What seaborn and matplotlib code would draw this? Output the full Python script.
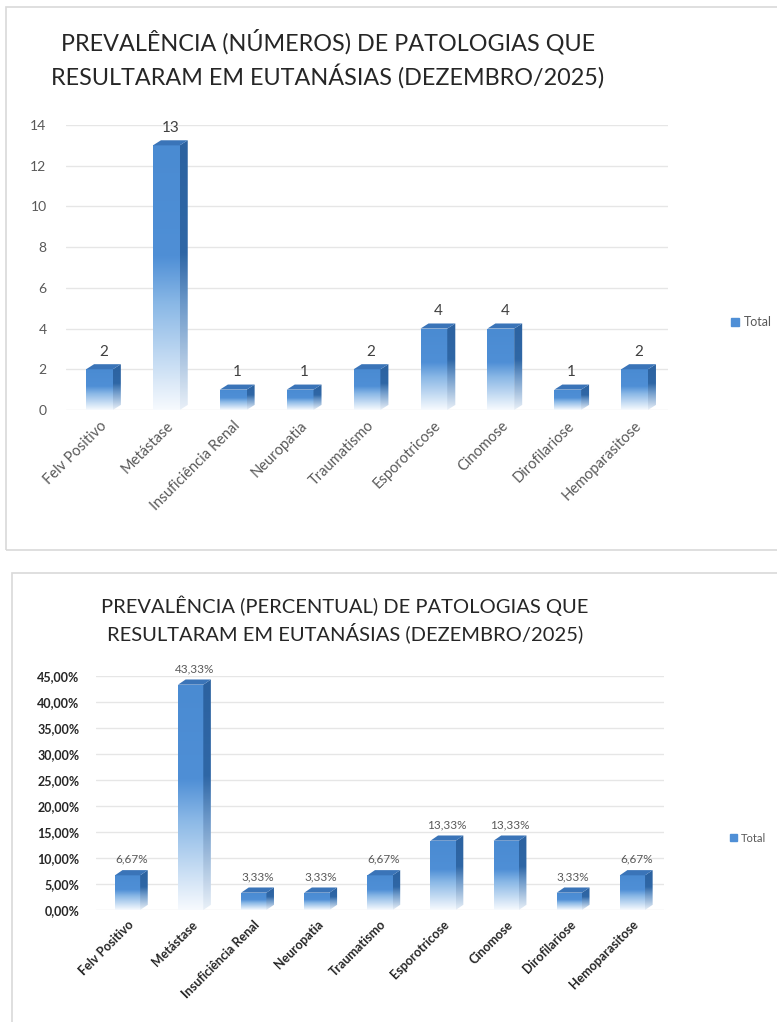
import numpy as np
import pandas as pd
import seaborn as sns
import matplotlib.pyplot as plt
from matplotlib.patches import Polygon, Rectangle, Patch
from matplotlib.colors import LinearSegmentedColormap
from matplotlib.ticker import FuncFormatter

# Dados
categorias = ["Felv Positivo", "Metástase", "Insuficiência Renal", "Neuropatia",
              "Traumatismo", "Esporotricose", "Cinomose", "Dirofilariose",
              "Hemoparasitose"]
casos = [2, 13, 1, 1, 2, 4, 4, 1, 2]
percentuais = [6.67, 43.33, 3.33, 3.33, 6.67, 13.33, 13.33, 3.33, 6.67]
ticks_num = [0, 2, 4, 6, 8, 10, 12, 14]
ticks_pct = [0, 5, 10, 15, 20, 25, 30, 35, 40, 45]

titulo_num = ["PREVALÊNCIA (NÚMEROS) DE PATOLOGIAS QUE",
              "RESULTARAM EM EUTANÁSIAS (DEZEMBRO/2025)"]
titulo_pct = ["PREVALÊNCIA (PERCENTUAL) DE PATOLOGIAS QUE",
              "RESULTARAM EM EUTANÁSIAS (DEZEMBRO/2025)"]

W, H = 777, 1022
sns.set_theme(style="white")
plt.rcParams["font.family"] = ["Lato", "DejaVu Sans"]

fig = plt.figure(figsize=(W / 100, H / 100), dpi=100)

front_cmap = LinearSegmentedColormap.from_list(
    "front", [(0, "#f7fafe"), (0.4, "#8ab8e6"), (0.58, "#4f8fd6"), (1, "#4a8bd2")])
side_cmap = LinearSegmentedColormap.from_list(
    "side", [(0, "#e9f0f8"), (0.4, "#6a97c8"), (0.58, "#2f67a6"), (1, "#2c62a0")])
TOP_COLOR = "#3a74b8"


def px_axes(left, top, right, bottom):
    return fig.add_axes([left / W, 1 - bottom / H, (right - left) / W, (bottom - top) / H])


def panel(left, top, right, bottom):
    fig.patches.append(Rectangle((left / W, 1 - bottom / H), (right - left) / W,
                                 (bottom - top) / H, transform=fig.transFigure,
                                 fill=False, edgecolor="#d9d9d9", lw=1.2))


def draw_chart(ax, valores, ticks, fmt_tick, fmt_val, depth_y, val_size, val_color,
               tick_kw, xtick_kw):
    df = pd.DataFrame({"cat": categorias, "v": valores})
    sns.barplot(data=df, x="cat", y="v", ax=ax, width=0.4, color="#4f8fd6",
                saturation=1, zorder=3)
    ax.set_ylim(ticks[0], ticks[-1])
    ax.set_xlim(-0.5, len(categorias) - 0.5)
    dx = 0.12
    grad = np.linspace(0, 1, 256).reshape(-1, 1)
    for p, v in zip(list(ax.patches), valores):
        x0, w, h = p.get_x(), p.get_width(), p.get_height()
        p.set_facecolor("none")
        p.set_edgecolor("none")
        im = ax.imshow(grad, extent=[x0, x0 + w, 0, h], origin="lower",
                       cmap=front_cmap, aspect="auto", zorder=3)
        im.set_clip_path(p)
        side = Polygon([[x0 + w, 0], [x0 + w + dx, depth_y], [x0 + w + dx, h + depth_y],
                        [x0 + w, h]], closed=True, facecolor="none", edgecolor="none")
        ax.add_patch(side)
        ims = ax.imshow(grad, extent=[x0 + w, x0 + w + dx, 0, h + depth_y], origin="lower",
                        cmap=side_cmap, aspect="auto", zorder=3)
        ims.set_clip_path(side)
        top = Polygon([[x0, h], [x0 + dx, h + depth_y], [x0 + w + dx, h + depth_y],
                       [x0 + w, h]], closed=True, facecolor=TOP_COLOR,
                      edgecolor="none", zorder=4)
        ax.add_patch(top)
        ax.annotate(fmt_val(v), (x0 + w / 2 + dx / 2, h + depth_y), xytext=(0, 4),
                    textcoords="offset points", ha="center", va="bottom",
                    fontsize=val_size, color=val_color)
    ax.set_ylim(ticks[0], ticks[-1])
    ax.set_xlim(-0.5, len(categorias) - 0.5)
    ax.set_yticks(ticks)
    ax.yaxis.set_major_formatter(FuncFormatter(fmt_tick))
    ax.grid(axis="y", color="#e6e6e6", lw=1, zorder=0)
    ax.set_axisbelow(True)
    for s in ax.spines.values():
        s.set_visible(False)
    ax.set_xlabel("")
    ax.set_ylabel("")
    ax.tick_params(axis="both", length=0)
    ax.tick_params(axis="y", **tick_kw)
    ax.set_xticks(range(len(categorias)))
    ax.set_xticklabels(categorias, rotation=45, ha="right", rotation_mode="anchor",
                       **xtick_kw)
    ax.patch.set_alpha(0)


# ---------- gráfico 1: números ----------
panel(6, 7, 790, 550)
for i, linha in enumerate(titulo_num):
    fig.text(328 / W, 1 - (42 + 34 * i) / H, linha, ha="center", va="center",
             fontsize=16.8, color="#262626")

ax1 = px_axes(66, 125, 668, 410)
draw_chart(ax1, casos, ticks_num, lambda v, p: f"{v:.0f}", lambda v: f"{v}",
           0.25, 11, "#404040",
           dict(labelsize=10, labelcolor="#595959", pad=14),
           dict(fontsize=10.5, color="#595959"))
ax1.tick_params(axis="x", pad=6)
fig.legend(handles=[Patch(color="#4f8fd6", label="Total")], loc="center left",
           bbox_to_anchor=(720 / W, 1 - 322 / H), frameon=False, fontsize=9,
           handlelength=0.6, handleheight=0.6, handletextpad=0.4, labelcolor="#595959")

# ---------- gráfico 2: percentuais ----------
panel(12, 573, 790, 1040)
for i, linha in enumerate(titulo_pct):
    fig.text(345 / W, 1 - (606 + 27 * i) / H, linha, ha="center", va="center",
             fontsize=14.5, color="#262626")

ax2 = px_axes(96, 676, 664, 910)
draw_chart(ax2, percentuais, ticks_pct,
           lambda v, p: f"{v:.2f}%".replace(".", ","),
           lambda v: f"{v:.2f}%".replace(".", ","),
           1.0, 8.5, "#595959",
           dict(labelsize=9, labelcolor="#262626", pad=12),
           dict(fontsize=9, color="#262626", fontweight="bold"))
for t in ax2.get_yticklabels():
    t.set_fontweight("bold")
ax2.tick_params(axis="x", pad=6)
fig.legend(handles=[Patch(color="#4f8fd6", label="Total")], loc="center left",
           bbox_to_anchor=(720 / W, 1 - 838 / H), frameon=False, fontsize=8,
           handlelength=0.6, handleheight=0.6, handletextpad=0.4, labelcolor="#595959")

fig.savefig("out.png", dpi=100)
plt.close(fig)
